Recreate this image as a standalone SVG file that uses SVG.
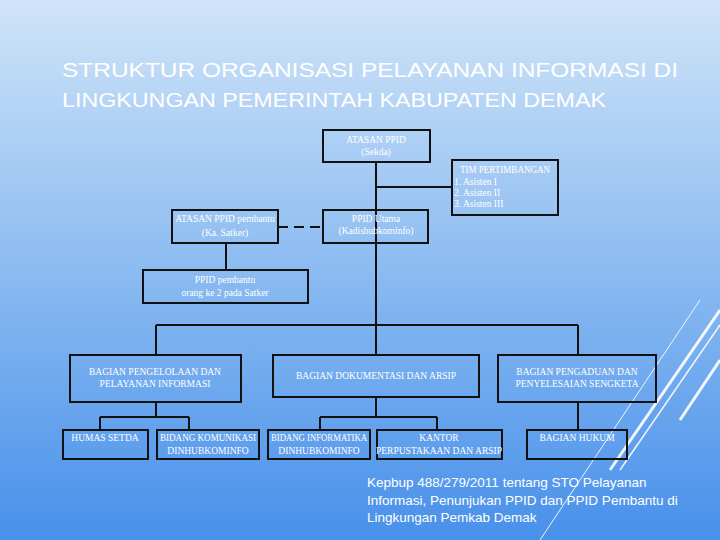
<svg xmlns="http://www.w3.org/2000/svg" width="720" height="540" viewBox="0 0 720 540">
<defs>
<linearGradient id="bg" x1="0" y1="0" x2="0" y2="1">
<stop offset="0" stop-color="#d0e4f8"/>
<stop offset="0.5" stop-color="#8bbbf1"/>
<stop offset="1" stop-color="#4890ea"/>
</linearGradient>
</defs>
<style>
.b{fill:none;stroke:#111;stroke-width:2}
.l{fill:none;stroke:#111;stroke-width:2}
.t{font-family:"Liberation Serif",serif;font-size:9.5px;fill:#fff;text-anchor:middle}
.tl{font-family:"Liberation Serif",serif;font-size:9.5px;fill:#fff}
.h{font-family:"Liberation Sans",Arial,sans-serif;font-size:20px;fill:#fff}
.f{font-family:"Liberation Sans",Arial,sans-serif;font-size:13.5px;fill:#fff}
</style>
<rect width="720" height="540" fill="url(#bg)"/>
<g stroke="#fff" fill="none" opacity="0.9">
<line x1="700" y1="300" x2="540" y2="540" stroke-width="1"/>
<line x1="720" y1="310" x2="610" y2="470" stroke-width="3"/>
<line x1="720" y1="325" x2="620" y2="470" stroke-width="1.5"/>
<line x1="720" y1="360" x2="680" y2="420" stroke-width="3"/>
</g>
<text class="h" x="62" y="77" textLength="616" lengthAdjust="spacingAndGlyphs">STRUKTUR ORGANISASI PELAYANAN INFORMASI DI</text>
<text class="h" x="62" y="107" textLength="544" lengthAdjust="spacingAndGlyphs">LINGKUNGAN PEMERINTAH KABUPATEN DEMAK</text>
<g id="connectors">
<path class="l" d="M376 162V325M376 187H452M226 243V270M156 325H578M156 325V355M376 325V355M578 325V355M156 402V417M100 417H189M100 417V430M189 417V430M376 397V417M320 417H437M320 417V430M437 417V430M578 402V430"/>
<path class="l" d="M278 227H323" stroke-dasharray="10,6"/>
</g>
<g id="atasan"><rect class="b" x="323" y="130" width="107" height="32"/><text class="t" x="376" y="143">ATASAN PPID</text><text class="t" x="376" y="155">(Sekda)</text></g>
<g id="tim"><rect class="b" x="452" y="160" width="106" height="55"/><text class="tl" x="460" y="173" textLength="90" lengthAdjust="spacingAndGlyphs">TIM PERTIMBANGAN</text><text class="tl" x="454" y="185">1. Asisten I</text><text class="tl" x="454" y="196">2. Asisten II</text><text class="tl" x="454" y="207">3. Asisten III</text></g>
<g id="utama"><rect class="b" x="323" y="210" width="105" height="33"/><text class="t" x="376" y="222">PPID Utama</text><text class="t" x="376" y="234">(Kadishubkominfo)</text></g>
<g id="atasanpembantu"><rect class="b" x="172" y="210" width="106" height="33"/><text class="t" x="225" y="222">ATASAN PPID pembantu</text><text class="t" x="225" y="236">(Ka. Satker)</text></g>
<g id="pembantu"><rect class="b" x="143" y="270" width="165" height="33"/><text class="t" x="225" y="283">PPID pembantu</text><text class="t" x="225" y="296">orang ke 2 pada Satker</text></g>
<g id="pengelolaan"><rect class="b" x="70" y="355" width="171" height="47"/><text class="t" x="155" y="375">BAGIAN PENGELOLAAN DAN</text><text class="t" x="155" y="387">PELAYANAN INFORMASI</text></g>
<g id="dokumentasi"><rect class="b" x="273" y="355" width="206" height="42"/><text class="t" x="376" y="379">BAGIAN DOKUMENTASI DAN ARSIP</text></g>
<g id="pengaduan"><rect class="b" x="498" y="355" width="158" height="47"/><text class="t" x="577" y="375">BAGIAN PENGADUAN DAN</text><text class="t" x="577" y="387">PENYELESAIAN SENGKETA</text></g>
<g id="humas"><rect class="b" x="63" y="430" width="85" height="29"/><text class="t" x="105" y="441">HUMAS SETDA</text></g>
<g id="komunikasi"><rect class="b" x="157" y="430" width="102" height="29"/><text class="t" x="208" y="441" textLength="96" lengthAdjust="spacingAndGlyphs">BIDANG KOMUNIKASI</text><text class="t" x="208" y="454">DINHUBKOMINFO</text></g>
<g id="informatika"><rect class="b" x="268" y="430" width="102" height="29"/><text class="t" x="319" y="441" textLength="96" lengthAdjust="spacingAndGlyphs">BIDANG INFORMATIKA</text><text class="t" x="319" y="454">DINHUBKOMINFO</text></g>
<g id="kantor"><rect class="b" x="377" y="430" width="125" height="29"/><text class="t" x="439" y="441">KANTOR</text><text class="t" x="439" y="454">PERPUSTAKAAN DAN ARSIP</text></g>
<g id="hukum"><rect class="b" x="527" y="430" width="100" height="29"/><text class="t" x="577" y="441">BAGIAN HUKUM</text></g>
<text class="f" x="367" y="487">Kepbup 488/279/2011 tentang STO Pelayanan</text>
<text class="f" x="367" y="505">Informasi, Penunjukan PPID dan PPID Pembantu di</text>
<text class="f" x="367" y="522">Lingkungan Pemkab Demak</text>
</svg>
